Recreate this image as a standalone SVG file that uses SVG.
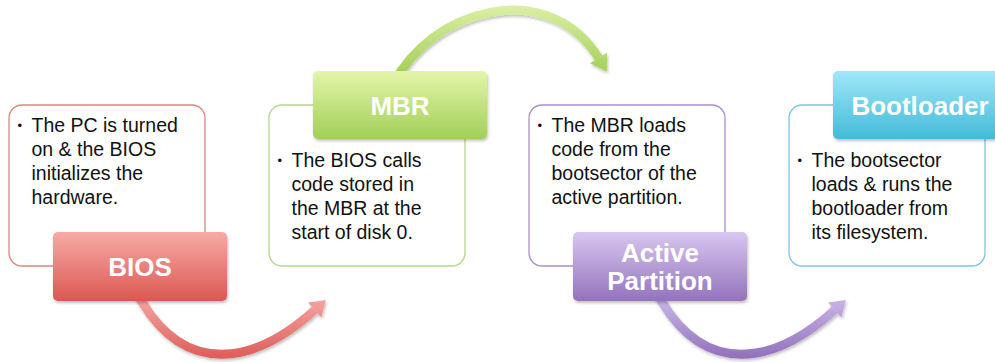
<svg xmlns="http://www.w3.org/2000/svg" width="995" height="362" viewBox="0 0 995 362">
<defs>
<linearGradient id="gRed" x1="0" y1="0" x2="0" y2="1"><stop offset="0" stop-color="#f7aaa5"/><stop offset="1" stop-color="#db5853"/></linearGradient>
<linearGradient id="gGreen" x1="0" y1="0" x2="0" y2="1"><stop offset="0" stop-color="#e3f5aa"/><stop offset="1" stop-color="#a2cf58"/></linearGradient>
<linearGradient id="gPurple" x1="0" y1="0" x2="0" y2="1"><stop offset="0" stop-color="#d9c7f0"/><stop offset="1" stop-color="#9373bd"/></linearGradient>
<linearGradient id="gCyan" x1="0" y1="0" x2="0" y2="1"><stop offset="0" stop-color="#a0e7f8"/><stop offset="1" stop-color="#42bbd8"/></linearGradient>
<linearGradient id="aRed" gradientUnits="userSpaceOnUse" x1="0" y1="295" x2="0" y2="360"><stop offset="0" stop-color="#f5a9a6"/><stop offset="1" stop-color="#dc5b58"/></linearGradient>
<linearGradient id="aPurple" gradientUnits="userSpaceOnUse" x1="0" y1="295" x2="0" y2="360"><stop offset="0" stop-color="#cdbaea"/><stop offset="1" stop-color="#906eb9"/></linearGradient>
<linearGradient id="aGreen" gradientUnits="userSpaceOnUse" x1="0" y1="5" x2="0" y2="75"><stop offset="0" stop-color="#dcf0a4"/><stop offset="1" stop-color="#a0cf56"/></linearGradient>
<filter id="sh" x="-20%" y="-20%" width="140%" height="150%"><feDropShadow dx="1" dy="2" stdDeviation="1.5" flood-color="#000" flood-opacity="0.25"/></filter>
</defs>
<style>
.box{fill:#fff;stroke-width:1.3}
.lbl{filter:url(#sh)}
.body{font-family:"Liberation Sans",Arial,sans-serif;font-size:19.5px;fill:#111}
.bul{font-family:"Liberation Sans",Arial,sans-serif;font-size:13px;fill:#111}
.head{font-family:"Liberation Sans",Arial,sans-serif;font-size:26px;font-weight:bold;fill:#fff;text-anchor:middle}
.arc{fill:none;stroke-width:9;stroke-linejoin:round}
</style>
<g id="connectors" filter="url(#sh)">
<path class="arc" stroke="url(#aRed)" d="M136.8,293.4 L142,302 C185.7,374.2 252.5,366.3 314.7,310"/>
<polygon fill="url(#aRed)" points="325.8,300 321.4,317.4 308,302.6"/>
<path class="arc" stroke="url(#aGreen)" d="M396.4,77.6 L401,71 C450,0.5 553.8,-15.1 598.5,58"/>
<polygon fill="url(#aGreen)" points="606.8,71.6 607,52.8 590,63.2"/>
<path class="arc" stroke="url(#aPurple)" d="M656.8,293.4 L662,302 C705.7,374.2 772.5,366.3 834.7,310"/>
<polygon fill="url(#aPurple)" points="845.8,300 841.4,317.4 828,302.6"/>
</g>
<g id="bios">
<rect class="box" x="9" y="105" width="196" height="161" rx="13" stroke="#dc8583"/>
<text class="bul" x="17.5" y="130">•</text>
<text class="body" x="31.5" y="132">The PC is turned</text>
<text class="body" x="31.5" y="156">on &amp; the BIOS</text>
<text class="body" x="31.5" y="180">initializes the</text>
<text class="body" x="31.5" y="204">hardware.</text>
<rect class="lbl" x="53" y="232" width="174" height="69" rx="5" fill="url(#gRed)"/>
<text class="head" x="140" y="276">BIOS</text>
</g>
<g id="mbr">
<rect class="box" x="269" y="105" width="196" height="161" rx="13" stroke="#b7d78d"/>
<text class="bul" x="277.5" y="165">•</text>
<text class="body" x="291.5" y="167">The BIOS calls</text>
<text class="body" x="291.5" y="191">code stored in</text>
<text class="body" x="291.5" y="215">the MBR at the</text>
<text class="body" x="291.5" y="239">start of disk 0.</text>
<rect class="lbl" x="313" y="71" width="174" height="68" rx="5" fill="url(#gGreen)"/>
<text class="head" x="400" y="115">MBR</text>
</g>
<g id="active-partition">
<rect class="box" x="529" y="105" width="196" height="161" rx="13" stroke="#a88ecb"/>
<text class="bul" x="537.5" y="130">•</text>
<text class="body" x="551.5" y="132">The MBR loads</text>
<text class="body" x="551.5" y="156">code from the</text>
<text class="body" x="551.5" y="180">bootsector of the</text>
<text class="body" x="551.5" y="204">active partition.</text>
<rect class="lbl" x="573" y="232" width="174" height="69" rx="5" fill="url(#gPurple)"/>
<text class="head" x="660" y="262">Active</text>
<text class="head" x="660" y="290">Partition</text>
</g>
<g id="bootloader">
<rect class="box" x="789" y="105" width="196" height="161" rx="13" stroke="#7ec6da"/>
<text class="bul" x="797.5" y="165">•</text>
<text class="body" x="811.5" y="167">The bootsector</text>
<text class="body" x="811.5" y="191">loads &amp; runs the</text>
<text class="body" x="811.5" y="215">bootloader from</text>
<text class="body" x="811.5" y="239">its filesystem.</text>
<rect class="lbl" x="833" y="71" width="174" height="68" rx="5" fill="url(#gCyan)"/>
<text class="head" x="920" y="115">Bootloader</text>
</g>
</svg>
